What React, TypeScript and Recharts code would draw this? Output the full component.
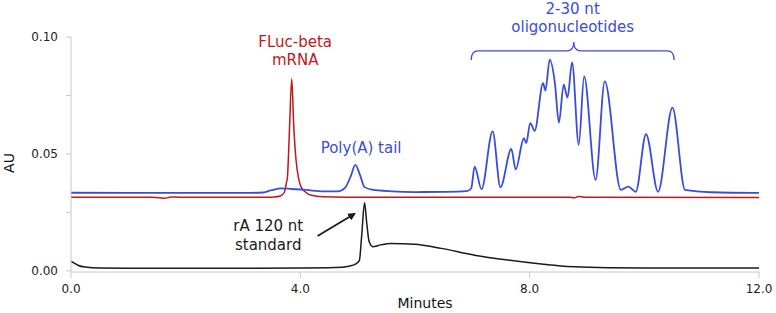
import React from "react";
import { LineChart, Line, XAxis, YAxis } from "recharts";

// [minutes, AU]
const blueTrace: [number, number][] = [
    [0, 0.0334], [1, 0.0333], [2, 0.0333], [3, 0.0333], [3.35, 0.0335], [3.5, 0.0345],
    [3.66, 0.0353], [3.85, 0.035], [4.1, 0.0346], [4.4, 0.034], [4.65, 0.034], [4.78, 0.0355],
    [4.88, 0.0405], [4.96, 0.0453], [5.04, 0.041], [5.12, 0.0358], [5.25, 0.0347], [5.6, 0.034],
    [6.0, 0.0337], [6.5, 0.0338], [6.9, 0.0341], [6.98, 0.0352], [7.04, 0.0446], [7.16, 0.0349],
    [7.354, 0.0596], [7.49, 0.0357], [7.68, 0.0521], [7.755, 0.0434], [7.9, 0.0567], [7.94, 0.0546],
    [8.01, 0.0632], [8.087, 0.0599], [8.234, 0.0803], [8.274, 0.0771], [8.35, 0.0903], [8.44, 0.0803],
    [8.51, 0.0634], [8.594, 0.0796], [8.66, 0.0741], [8.74, 0.0891], [8.856, 0.0539], [8.95, 0.0831],
    [9.15, 0.0389], [9.31, 0.081], [9.59, 0.0346], [9.72, 0.036], [9.85, 0.0338], [10.03, 0.0584],
    [10.24, 0.0338], [10.49, 0.0698], [10.71, 0.0346], [11.17, 0.0336], [12, 0.0333],
];

const redTrace: [number, number][] = [
    [0, 0.0315], [1.4, 0.0315], [1.55, 0.0313], [1.63, 0.031], [1.75, 0.0316], [1.9, 0.0315],
    [3.4, 0.0315], [3.55, 0.0316], [3.65, 0.032], [3.72, 0.0335], [3.76, 0.038], [3.775, 0.04],
    [3.81, 0.06], [3.85, 0.0821], [3.885, 0.062], [3.925, 0.0474], [3.97, 0.0395], [4.01, 0.036],
    [4.1, 0.0335], [4.19, 0.0323], [4.4, 0.0317], [4.8, 0.0315], [8.7, 0.0315], [8.78, 0.0312],
    [8.85, 0.0318], [8.95, 0.0315], [12, 0.0314],
];

const blackTrace: [number, number][] = [
    [0, 0.004], [0.05, 0.0034], [0.12, 0.0024], [0.25, 0.0016], [0.5, 0.0012], [1, 0.0011],
    [2, 0.0011], [3, 0.0011], [4, 0.0012], [4.6, 0.0014], [4.85, 0.002], [4.97, 0.003],
    [5.03, 0.0045], [5.07, 0.015], [5.12, 0.0291], [5.16, 0.02], [5.2, 0.0125], [5.265, 0.0103],
    [5.4, 0.0111], [5.58, 0.0117], [5.99, 0.0114], [6.46, 0.0096], [7.04, 0.0067], [7.62, 0.0046],
    [8.2, 0.0029], [8.5, 0.0022], [8.79, 0.0017], [9.37, 0.0013], [10, 0.0012], [12, 0.0012],
];

const xTicks = [0, 4, 8, 12];
const yTicks = [0, 0.025, 0.05, 0.075, 0.1];
const yLabelled = [0, 0.05, 0.1];

const BLUE = "#3a4cdc";
const RED = "#c01818";
const BLACK = "#1a1a1a";
const AXIS = "#c8c8c8";
const FONT = "DejaVu Sans, Verdana, sans-serif";

const W = 776;
const H = 313;
const PLOT = { left: 71, right: 759, top: 37, bottom: 272 };
const X_DOMAIN: [number, number] = [0, 12];
const Y_DOMAIN: [number, number] = [-0.0005, 0.1];

// same mapping as the chart's axes, for the annotations on top
const px = (t: number) =>
    PLOT.left + ((t - X_DOMAIN[0]) / (X_DOMAIN[1] - X_DOMAIN[0])) * (PLOT.right - PLOT.left);
const py = (v: number) =>
    PLOT.bottom - ((v - Y_DOMAIN[0]) / (Y_DOMAIN[1] - Y_DOMAIN[0])) * (PLOT.bottom - PLOT.top);

const toRows = (trace: [number, number][]) => trace.map(([t, v]) => ({ t, v }));

const Annotations = () => {
    const bx1 = px(6.98);
    const bx2 = px(10.52);
    const bxc = px(8.77);
    const by = py(0.0941);
    const byEnd = py(0.0902);
    const byTip = py(0.0979);
    const brace = `M${bx1},${byEnd} Q${bx1},${by} ${bx1 + 7},${by} L${bxc - 7},${by} Q${bxc},${by} ${bxc},${byTip} Q${bxc},${by} ${bxc + 7},${by} L${bx2 - 7},${by} Q${bx2},${by} ${bx2},${byEnd}`;

    const ax1 = px(4.3);
    const ay1 = py(0.0149);
    const ax2 = px(4.94);
    const ay2 = py(0.0243);

    return (
        <svg
            width={W}
            height={H}
            style={{ position: "absolute", left: 0, top: 0, pointerEvents: "none" }}
            fontFamily={FONT}
            fontSize={15}
        >
            <text x={px(3.91)} y={47} textAnchor="middle" fill={RED}>FLuc-beta</text>
            <text x={px(3.91)} y={65} textAnchor="middle" fill={RED}>mRNA</text>
            <text x={px(5.06)} y={153} textAnchor="middle" fill={BLUE}>Poly(A) tail</text>
            <text x={px(8.75)} y={14} textAnchor="middle" fill={BLUE}>2-30 nt</text>
            <text x={px(8.75)} y={32} textAnchor="middle" fill={BLUE}>oligonucleotides</text>
            <path d={brace} fill="none" stroke={BLUE} strokeWidth={1.3} />
            <text x={px(3.44)} y={231} textAnchor="middle" fill={BLACK}>rA 120 nt</text>
            <text x={px(3.44)} y={250} textAnchor="middle" fill={BLACK}>standard</text>
            <defs>
                <marker id="head" markerWidth="8" markerHeight="8" refX="6" refY="4" orient="auto" markerUnits="userSpaceOnUse">
                    <path d="M0,0 L8,4 L0,8 z" fill={BLACK} />
                </marker>
            </defs>
            <line x1={ax1} y1={ay1} x2={ax2} y2={ay2} stroke={BLACK} strokeWidth={1.8} markerEnd="url(#head)" />
            <text x={425} y={308} textAnchor="middle" fill="#111" fontSize={14}>Minutes</text>
            <text x={14} y={163} textAnchor="middle" fill="#111" fontSize={14} transform="rotate(-90 14 163)">AU</text>
        </svg>
    );
};

const App = () => {
    const tickStyle = { fontSize: 12, fill: "#222", fontFamily: FONT };
    return (
        <div style={{ position: "absolute", left: 0, top: 0, width: W, height: H, background: "#fff" }}>
            <LineChart
                width={W}
                height={H}
                margin={{ top: PLOT.top, right: W - PLOT.right, left: 0, bottom: 0 }}
            >
                <XAxis
                    dataKey="t"
                    type="number"
                    domain={X_DOMAIN}
                    ticks={xTicks}
                    tickFormatter={(t: number) => t.toFixed(1)}
                    height={H - PLOT.bottom}
                    stroke={AXIS}
                    tickSize={6}
                    tickMargin={6}
                    tick={tickStyle}
                    allowDataOverflow
                />
                <YAxis
                    type="number"
                    domain={Y_DOMAIN}
                    ticks={yTicks}
                    tickFormatter={(v: number) => (yLabelled.includes(v) ? v.toFixed(2) : "")}
                    width={PLOT.left}
                    stroke={AXIS}
                    tickSize={5}
                    tickMargin={8}
                    tick={tickStyle}
                    interval={0}
                    allowDataOverflow
                />
                <Line data={toRows(blackTrace)} dataKey="v" type="monotone" stroke={BLACK} strokeWidth={1.5} dot={false} isAnimationActive={false} />
                <Line data={toRows(redTrace)} dataKey="v" type="monotone" stroke={RED} strokeWidth={1.5} dot={false} isAnimationActive={false} />
                <Line data={toRows(blueTrace)} dataKey="v" type="monotone" stroke={BLUE} strokeWidth={1.8} dot={false} isAnimationActive={false} />
            </LineChart>
            <Annotations />
        </div>
    );
};

export default App;
